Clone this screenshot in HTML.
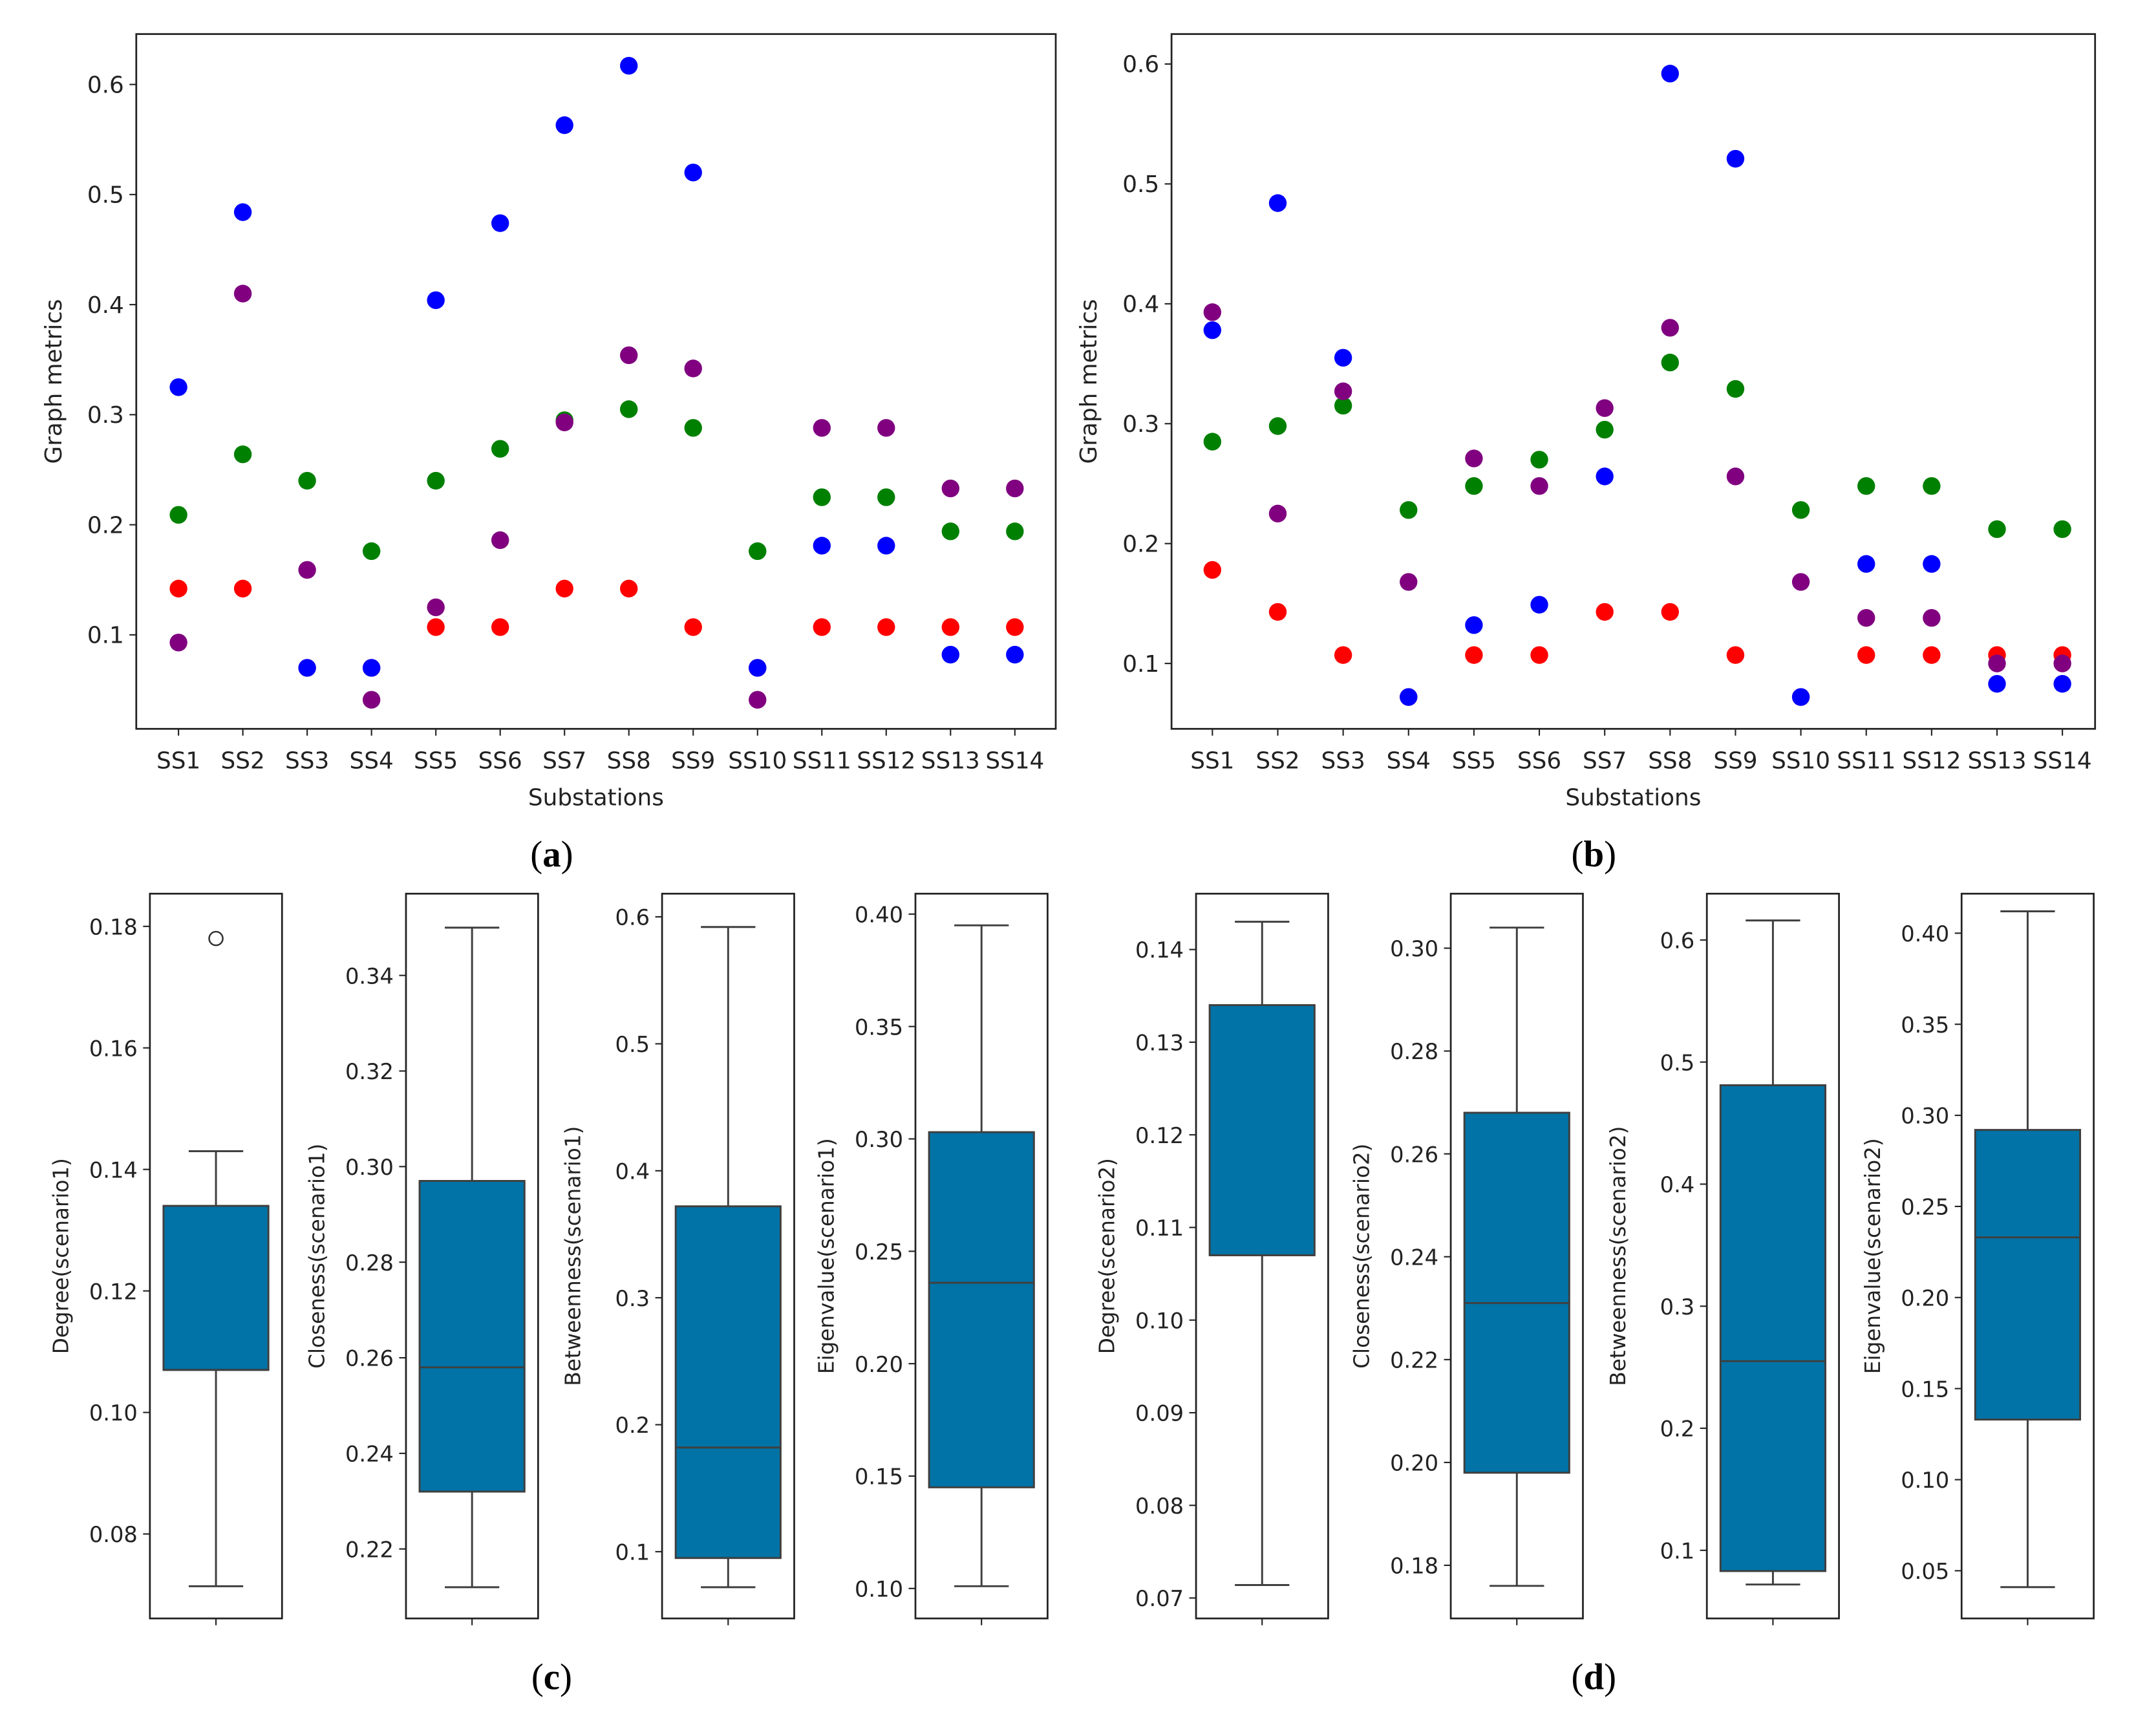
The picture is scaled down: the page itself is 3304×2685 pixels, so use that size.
<!DOCTYPE html>
<html><head><meta charset="utf-8"><style>
html,body{margin:0;padding:0;background:#fff;}
svg{display:block;}
text{font-family:"DejaVu Sans","Liberation Sans",sans-serif;fill:#222;}
.cap{font-family:"Liberation Serif",serif;font-size:27px;fill:#000;}
</style></head><body>
<svg id="root" width="3304" height="2685" viewBox="0 0 1568 1274.3" xmlns="http://www.w3.org/2000/svg">
<text class="cap" x="405" y="636" text-anchor="middle">(<tspan font-weight="bold">a</tspan>)</text>
<text class="cap" x="1170" y="636" text-anchor="middle">(<tspan font-weight="bold">b</tspan>)</text>
<text class="cap" x="405" y="1240" text-anchor="middle">(<tspan font-weight="bold">c</tspan>)</text>
<text class="cap" x="1170" y="1240" text-anchor="middle">(<tspan font-weight="bold">d</tspan>)</text>
</svg>
<script>
const categories=["SS1","SS2","SS3","SS4","SS5","SS6","SS7","SS8","SS9","SS10","SS11","SS12","SS13","SS14"];
const aRed=[.142,.142,.070,.070,.107,.107,.142,.142,.107,.070,.107,.107,.107,.107];
const aGreen=[.209,.264,.240,.176,.240,.269,.295,.305,.288,.176,.225,.225,.194,.194];
const aBlue=[.325,.484,.070,.070,.404,.474,.563,.617,.520,.070,.181,.181,.082,.082];
const aPurple=[.093,.410,.159,.041,.125,.186,.293,.354,.342,.041,.288,.288,.233,.233];
const bRed=[.178,.143,.107,.072,.107,.107,.143,.143,.107,.072,.107,.107,.107,.107];
const bGreen=[.285,.298,.315,.228,.248,.270,.295,.351,.329,.228,.248,.248,.212,.212];
const bBlue=[.378,.484,.355,.072,.132,.149,.256,.592,.521,.072,.183,.183,.083,.083];
const bPurple=[.393,.225,.327,.168,.271,.248,.313,.380,.256,.168,.138,.138,.100,.100];
const scatterTicks=[0.1,0.2,0.3,0.4,0.5,0.6];
const boxLabels=["Degree(scenario1)","Closeness(scenario1)","Betweenness(scenario1)","Eigenvalue(scenario1)","Degree(scenario2)","Closeness(scenario2)","Betweenness(scenario2)","Eigenvalue(scenario2)"];
// [whiskerLow, q1, median, q3, whiskerHigh]
const boxStats=[[.0714,.107,.107,.134,.143],[.212,.232,.258,.297,.350],[.072,.095,.182,.372,.592],[.101,.145,.236,.303,.395],
[.0714,.107,.107,.134,.143],[.176,.198,.231,.268,.304],[.072,.083,.255,.481,.616],[.041,.133,.233,.292,.412]];
const boxOutliers=[[.178],[],[],[],[],[],[],[]];
const boxTicks=[[.08,.10,.12,.14,.16,.18],[.22,.24,.26,.28,.30,.32,.34],[.1,.2,.3,.4,.5,.6],[.10,.15,.20,.25,.30,.35,.40],
[.07,.08,.09,.10,.11,.12,.13,.14],[.18,.20,.22,.24,.26,.28,.30],[.1,.2,.3,.4,.5,.6],[.05,.10,.15,.20,.25,.30,.35,.40]];
const boxTickFmt=[2,2,1,2,2,2,1,2];

const NS="http://www.w3.org/2000/svg";
const root=document.getElementById('root');
function mk(tag,attrs,parent){const e=document.createElementNS(NS,tag);for(const k in attrs)e.setAttribute(k,attrs[k]);(parent||root).appendChild(e);return e;}

function scatter(id,fx0,fx1,fy0,fy1,v0,y0,v1,y1,xFirst,xLast,series){
  const g=mk('g',{});
  
  
  const yS=v=>y0+(v-v0)*(y1-y0)/(v1-v0);
  const xS=i=>xFirst+i*(xLast-xFirst)/(categories.length-1);
  const fr=mk('rect',{x:fx0,y:fy0,width:fx1-fx0,height:fy1-fy0,fill:'none',stroke:'#222','stroke-width':1.3},g);
  
  
  scatterTicks.forEach(t=>{const y=yS(t);
    mk('line',{x1:fx0-5,x2:fx0,y1:y,y2:y,stroke:'#222','stroke-width':1},g);
    const tx=mk('text',{x:fx0-9,y:y+6,'text-anchor':'end','font-size':17},g);tx.textContent=t.toFixed(1);
    
    });
  categories.forEach((c,i)=>{const x=xS(i);
    mk('line',{x1:x,x2:x,y1:fy1,y2:fy1+5,stroke:'#222','stroke-width':1},g);
    const tx=mk('text',{x:x,y:fy1+29,'text-anchor':'middle','font-size':17},g);tx.textContent=c;
    
    });
  const xl=mk('text',{x:(fx0+fx1)/2,y:fy1+56,'text-anchor':'middle','font-size':17},g);xl.textContent='Substations';
  
  
  const yl=mk('text',{x:0,y:0,'text-anchor':'middle','font-size':17,transform:`translate(${fx0-55},${(fy0+fy1)/2}) rotate(-90)`},g);yl.textContent='Graph metrics';
  
  
  series.forEach(([arr,col,nm])=>arr.forEach((v,i)=>{
    const p=mk('circle',{cx:xS(i),cy:yS(v),r:6.5,fill:col},g);
    
    }));
}
scatter('a',100,775,25,535,0.1,466,0.6,62,131,745,[[aRed,'#ff0000','degree'],[aGreen,'#008000','closeness'],[aBlue,'#0000ff','betweenness'],[aPurple,'#800080','eigenvalue']]);
scatter('b',860,1538,25,535,0.1,487,0.6,47,890,1514,[[bRed,'#ff0000','degree'],[bGreen,'#008000','closeness'],[bBlue,'#0000ff','betweenness'],[bPurple,'#800080','eigenvalue']]);

const cal=[[.18,680,.08,1126],[.34,716,.22,1137],[.6,673,.1,1139],[.40,671,.10,1166],
[.14,697,.07,1173],[.30,696,.18,1149],[.6,690,.1,1138],[.40,685,.05,1153]];
const frameX=[110,298,486,672,878,1065,1253,1440];
boxStats.forEach((st,k)=>{
  const g=mk('g',{});
  
  
  const [va,ya,vb,yb]=cal[k];
  const yS=v=>ya+(v-va)*(yb-ya)/(vb-va);
  const fx=frameX[k],fw=97,fy0=656,fy1=1188,cx=fx+fw/2;
  const fr=mk('rect',{x:fx,y:fy0,width:fw,height:fy1-fy0,fill:'none',stroke:'#222','stroke-width':1.3},g);
  
  
  boxTicks[k].forEach(t=>{const y=yS(t);
    mk('line',{x1:fx-5,x2:fx,y1:y,y2:y,stroke:'#222','stroke-width':1},g);
    const tx=mk('text',{x:fx-9,y:y+6,'text-anchor':'end','font-size':16},g);tx.textContent=t.toFixed(boxTickFmt[k]);
    
    });
  mk('line',{x1:cx,x2:cx,y1:fy1,y2:fy1+5,stroke:'#222','stroke-width':1},g);
  const yl=mk('text',{x:0,y:0,'text-anchor':'middle','font-size':15.5,transform:`translate(${fx-60},${(fy0+fy1)/2}) rotate(-90)`},g);yl.textContent=boxLabels[k];
  
  
  const [lo,q1,md,q3,hi]=st;
  const wc='#3f3f3f';
  mk('line',{x1:cx,x2:cx,y1:yS(hi),y2:yS(q3),stroke:wc,'stroke-width':1.4},g);
  mk('line',{x1:cx,x2:cx,y1:yS(q1),y2:yS(lo),stroke:wc,'stroke-width':1.4},g);
  mk('line',{x1:cx-20,x2:cx+20,y1:yS(hi),y2:yS(hi),stroke:wc,'stroke-width':1.4},g);
  mk('line',{x1:cx-20,x2:cx+20,y1:yS(lo),y2:yS(lo),stroke:wc,'stroke-width':1.4},g);
  const b=mk('rect',{x:fx+10,y:yS(q3),width:fw-20,height:yS(q1)-yS(q3),fill:'#0173a6',stroke:wc,'stroke-width':1.4},g);
  
  
  const m=mk('line',{x1:fx+10,x2:fx+fw-10,y1:yS(md),y2:yS(md),stroke:wc,'stroke-width':1.4},g);
  
  
  boxOutliers[k].forEach(o=>{const c=mk('circle',{cx:cx,cy:yS(o),r:5,fill:'none',stroke:'#333','stroke-width':1.2},g);
    
    });
});
</script>
</body></html>
